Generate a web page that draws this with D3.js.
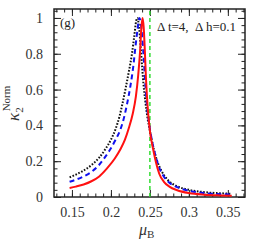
<!DOCTYPE html>
<html>
<head>
<meta charset="utf-8">
<script src="https://cdn.jsdelivr.net/npm/d3@7"></script>
<style>
  body { margin: 0; background: #fff; }
  text { font-family: "Liberation Serif", "DejaVu Serif", serif; }
</style>
</head>
<body>
<script>
const width = 258
const height = 245

// red solid
const muRed = [0.147, 0.155, 0.165, 0.175, 0.185, 0.195, 0.205, 0.212, 0.218, 0.223, 0.228, 0.232, 0.235, 0.2375, 0.239, 0.2405, 0.242, 0.2435, 0.245, 0.247, 0.25, 0.254, 0.258, 0.262, 0.268, 0.275, 0.285, 0.3, 0.32, 0.34, 0.355]
const kRed = [0.05, 0.058, 0.07, 0.088, 0.115, 0.16, 0.215, 0.265, 0.32, 0.385, 0.465, 0.56, 0.68, 0.82, 0.94, 1.0, 0.95, 0.82, 0.66, 0.51, 0.37, 0.27, 0.19, 0.13, 0.085, 0.058, 0.038, 0.022, 0.013, 0.009, 0.007]

// blue dashed
const muBlue = [0.147, 0.155, 0.165, 0.175, 0.185, 0.192, 0.199, 0.206, 0.212, 0.216, 0.2205, 0.225, 0.229, 0.231, 0.234, 0.2365, 0.238, 0.24, 0.242, 0.244, 0.246, 0.249, 0.252, 0.256, 0.261, 0.267, 0.275, 0.285, 0.3, 0.32, 0.34, 0.355]
const kBlue = [0.085, 0.097, 0.115, 0.14, 0.18, 0.22, 0.265, 0.32, 0.375, 0.43, 0.515, 0.62, 0.74, 0.82, 0.93, 1.0, 0.98, 0.9, 0.78, 0.64, 0.52, 0.41, 0.33, 0.25, 0.175, 0.12, 0.08, 0.055, 0.035, 0.022, 0.016, 0.013]

// black dotted
const muBlack = [0.147, 0.155, 0.165, 0.175, 0.185, 0.193, 0.2, 0.206, 0.211, 0.215, 0.219, 0.223, 0.227, 0.23, 0.2325, 0.234, 0.236, 0.238, 0.24, 0.242, 0.244, 0.247, 0.25, 0.254, 0.259, 0.265, 0.273, 0.285, 0.3, 0.32, 0.34, 0.355]
const kBlack = [0.11, 0.125, 0.148, 0.178, 0.22, 0.268, 0.32, 0.38, 0.45, 0.525, 0.61, 0.7, 0.8, 0.9, 0.985, 1.0, 0.95, 0.85, 0.73, 0.62, 0.54, 0.44, 0.37, 0.285, 0.205, 0.145, 0.095, 0.06, 0.04, 0.027, 0.021, 0.018]

const muC = 0.25
const xTicks = [0.15, 0.2, 0.25, 0.3, 0.35]
const yTicks = [0, 0.2, 0.4, 0.6, 0.8, 1]

const x = d3.scaleLinear().domain([0.127, 0.372]).range([54, 245])
const y = d3.scaleLinear().domain([0, 1.05]).range([197, 9])

const xMinor = d3.range(0.13, 0.3705, 0.01).map(v => +v.toFixed(2))
const yMinor = d3.range(0, 1.05, 0.04).map(v => +v.toFixed(2))

const svg = d3.select("body").append("svg")
    .attr("width", width)
    .attr("height", height)

const fmt = d => String(+d.toFixed(2))

function styleAxis(g) {
    g.select(".domain").remove()
    g.selectAll("line").attr("stroke", "#222").attr("stroke-width", 1)
    g.selectAll("text").attr("fill", "#333").attr("font-size", 14)
        .attr("font-family", "Liberation Serif, serif")
}

// bottom
svg.append("g").attr("transform", `translate(0,${y.range()[0]})`)
    .call(d3.axisBottom(x).tickValues(xMinor).tickSize(-3.5).tickFormat(""))
    .call(styleAxis)
svg.append("g").attr("transform", `translate(0,${y.range()[0]})`)
    .call(d3.axisBottom(x).tickValues(xTicks).tickSize(-7).tickPadding(10).tickFormat(fmt))
    .call(styleAxis)
// top
svg.append("g").attr("transform", `translate(0,${y.range()[1]})`)
    .call(d3.axisTop(x).tickValues(xMinor).tickSize(-3.5).tickFormat(""))
    .call(styleAxis)
svg.append("g").attr("transform", `translate(0,${y.range()[1]})`)
    .call(d3.axisTop(x).tickValues(xTicks).tickSize(-7).tickFormat(""))
    .call(styleAxis)
// left
svg.append("g").attr("transform", `translate(${x.range()[0]},0)`)
    .call(d3.axisLeft(y).tickValues(yMinor).tickSize(-3.5).tickFormat(""))
    .call(styleAxis)
svg.append("g").attr("transform", `translate(${x.range()[0]},0)`)
    .call(d3.axisLeft(y).tickValues(yTicks).tickSize(-7).tickPadding(11).tickFormat(fmt))
    .call(styleAxis)
// right
svg.append("g").attr("transform", `translate(${x.range()[1]},0)`)
    .call(d3.axisRight(y).tickValues(yMinor).tickSize(-3.5).tickFormat(""))
    .call(styleAxis)
svg.append("g").attr("transform", `translate(${x.range()[1]},0)`)
    .call(d3.axisRight(y).tickValues(yTicks).tickSize(-7).tickFormat(""))
    .call(styleAxis)

// frame
svg.append("rect")
    .attr("x", x.range()[0]).attr("y", y.range()[1])
    .attr("width", x.range()[1] - x.range()[0])
    .attr("height", y.range()[0] - y.range()[1])
    .attr("fill", "none").attr("stroke", "#222").attr("stroke-width", 1.5)

svg.append("clipPath").attr("id", "clip").append("rect")
    .attr("x", x.range()[0]).attr("y", y.range()[1])
    .attr("width", x.range()[1] - x.range()[0])
    .attr("height", y.range()[0] - y.range()[1])

const plot = svg.append("g").attr("clip-path", "url(#clip)")

// green critical line
plot.append("line")
    .attr("x1", x(muC)).attr("x2", x(muC))
    .attr("y1", y.range()[0]).attr("y2", y.range()[1])
    .attr("stroke", "#33dd33").attr("stroke-width", 1.5)
    .attr("stroke-dasharray", "4,3")

const line = d3.line().x(d => x(d[0])).y(d => y(d[1])).curve(d3.curveMonotoneX)

const series = [
    { mu: muBlack, k: kBlack, color: "#111", dash: "1.6,1.6", w: 2 },
    { mu: muBlue, k: kBlue, color: "#1010f0", dash: "5,3.5", w: 2 },
    { mu: muRed, k: kRed, color: "#ff1010", dash: null, w: 2 },
]

plot.selectAll("path.curve")
    .data(series)
    .join("path")
    .attr("class", "curve")
    .attr("d", s => line(d3.zip(s.mu, s.k)))
    .attr("fill", "none")
    .attr("stroke", s => s.color)
    .attr("stroke-width", s => s.w)
    .attr("stroke-dasharray", s => s.dash)

// annotations
svg.append("text").attr("x", 60).attr("y", 27)
    .attr("font-size", 13).attr("fill", "#222").text("(g)")
svg.append("text").attr("x", 157).attr("y", 31)
    .attr("font-size", 13).attr("fill", "#222")
    .attr("xml:space", "preserve")
    .text("\u0394 t=4,  \u0394 h=0.1")

// x label
const xl = svg.append("text").attr("x", 139).attr("y", 235).attr("fill", "#333")
xl.append("tspan").attr("font-size", 16).attr("font-style", "italic").text("\u03bc")
xl.append("tspan").attr("font-size", 11).attr("dy", 3).text("B")

// y label
const yl = svg.append("text")
    .attr("transform", "translate(19,121) rotate(-90)")
    .attr("fill", "#333")
yl.append("tspan").attr("font-size", 17).attr("font-style", "italic").text("\u03ba")
yl.append("tspan").attr("font-size", 11).attr("dy", 4).text("2")
yl.append("tspan").attr("font-size", 11).attr("dx", -4).attr("dy", -13).text("Norm")
</script>
</body>
</html>
